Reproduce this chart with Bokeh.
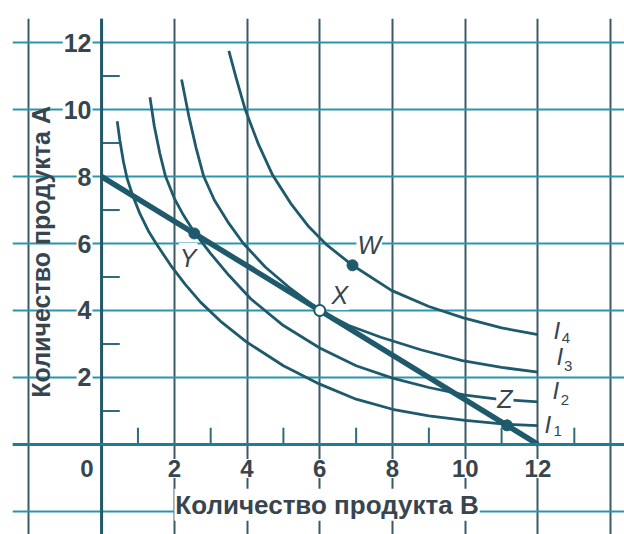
import math
from bokeh.plotting import figure
from bokeh.models import FixedTicker, Span
from bokeh.core.properties import value
from bokeh.embed import file_html
from bokeh.resources import INLINE

# ---- data ----
x_ticks = [0, 2, 4, 6, 8, 10, 12]
y_ticks = [2, 4, 6, 8, 10, 12]
x_minor = [1, 3, 5, 7, 9, 11, 13]
y_minor = [1, 3, 5, 7, 9, 11]
x_grid = [-2, 0, 2, 4, 6, 8, 10, 12, 14]
y_grid = [-2, 0, 2, 4, 6, 8, 10, 12]

budget_x = [0, 12]
budget_y = [8, 0]

i1_x = [0.43, 0.5, 0.6, 0.7, 0.85, 1.05, 1.3, 1.5, 1.9, 2.3, 2.72, 3.3, 4.0, 5.0, 6.0, 7.0, 8.0, 9.0, 10.0, 11.15, 12.0]
i1_y = [9.65, 9.1, 8.45, 7.95, 7.45, 6.9, 6.35, 6.0, 5.35, 4.78, 4.25, 3.65, 3.05, 2.35, 1.8, 1.35, 1.05, 0.85, 0.72, 0.6, 0.56]

i2_x = [1.33, 1.45, 1.6, 1.76, 2.0, 2.25, 2.54, 3.0, 3.5, 4.1, 5.0, 6.0, 7.0, 8.0, 9.0, 10.0, 11.0, 12.0]
i2_y = [10.37, 9.5, 8.7, 8.0, 7.35, 6.85, 6.35, 5.7, 5.05, 4.35, 3.55, 2.88, 2.35, 1.98, 1.7, 1.47, 1.34, 1.27]

i3_x = [2.2, 2.4, 2.6, 2.81, 3.1, 3.5, 3.9, 4.5, 5.2, 6.0, 6.8, 7.68, 8.8, 9.92, 11.0, 12.0]
i3_y = [10.9, 9.8, 8.85, 8.0, 7.3, 6.6, 6.0, 5.3, 4.65, 4.0, 3.55, 3.2, 2.82, 2.5, 2.3, 2.16]

i4_x = [3.5, 3.7, 3.95, 4.3, 4.7, 5.2, 5.7, 6.2, 6.9, 7.97, 9.0, 9.95, 11.0, 12.0]
i4_y = [11.75, 10.95, 10.0, 9.0, 8.05, 7.2, 6.5, 5.95, 5.35, 4.6, 4.12, 3.78, 3.48, 3.28]

pt_x = [6.9, 2.55, 11.15]
pt_y = [5.35, 6.3, 0.57]
x_pt = [6.0]
x_pt_y = [4.0]

pt_label_text = ["W", "X", "Y", "Z"]
pt_label_x = [7.36, 6.55, 2.38, 11.09]
pt_label_y = [5.96, 4.46, 5.57, 1.35]

curve_names = ["1", "2", "3", "4"]
curve_lab_x = [12.27, 12.49, 12.6, 12.52]
curve_lab_y = [0.6, 1.62, 2.62, 3.41]
curve_sub_x = [12.54, 12.74, 12.83, 12.77]
curve_sub_y = [0.41, 1.32, 2.33, 3.17]

x_title = "Количество продукта B"
y_title = "Количество продукта А"

# ---- styling ----
CURVE = "#1e5a6c"
TEXT = "#37454f"
FONT = value("Liberation Sans")

p = figure(width=624, height=534, x_range=(-2.45, 14.38), y_range=(-2.69, 12.72),
           output_backend="svg", toolbar_location=None,
           min_border_left=12, min_border_top=18, min_border_right=0, min_border_bottom=0)
p.xaxis.visible = False
p.yaxis.visible = False
p.outline_line_color = None
p.background_fill_color = "white"
p.border_fill_color = "white"

p.xgrid.ticker = FixedTicker(ticks=x_grid)
p.ygrid.ticker = FixedTicker(ticks=y_grid)
p.xgrid.grid_line_color = "#3a5a66"
p.xgrid.grid_line_width = 2
p.ygrid.grid_line_color = "#2996ae"
p.ygrid.grid_line_width = 2

p.add_layout(Span(location=0, dimension="height", line_color="#23596b", line_width=3))
p.add_layout(Span(location=0, dimension="width", line_color="#1f7d95", line_width=3))

# minor tick marks
p.segment(x0=[0] * len(y_minor), y0=y_minor, x1=[0.5] * len(y_minor), y1=y_minor,
          line_color="#2f6b7c", line_width=2)
p.segment(x0=x_minor, y0=[0] * len(x_minor), x1=x_minor, y1=[0.5] * len(x_minor),
          line_color="#2f6b7c", line_width=2)

# curves
for cx, cy in [(i1_x, i1_y), (i2_x, i2_y), (i3_x, i3_y), (i4_x, i4_y)]:
    p.line(cx, cy, line_color=CURVE, line_width=2.8, line_join="round")
p.line(budget_x, budget_y, line_color=CURVE, line_width=5.5)

# points
p.scatter(pt_x, pt_y, size=11, fill_color=CURVE, line_color=CURVE)
p.scatter(x_pt, x_pt_y, size=11, fill_color="white", line_color=CURVE, line_width=2)

# point labels
p.text(pt_label_x, pt_label_y, text=pt_label_text, text_font=FONT, text_font_style="italic",
       text_font_size="25px", text_color=TEXT, text_align="center", text_baseline="middle",
       background_fill_color="white", padding=1)

# curve labels
p.text(curve_lab_x, curve_lab_y, text=["I"] * 4, text_font=FONT, text_font_style="italic",
       text_font_size="24px", text_color=TEXT, text_align="center", text_baseline="middle")
p.text(curve_sub_x, curve_sub_y, text=curve_names, text_font=FONT,
       text_font_size="15px", text_color=TEXT, text_align="center", text_baseline="middle")

# tick labels
p.text([-0.25] * len(y_ticks), y_ticks, text=[str(v) for v in y_ticks], text_font=FONT,
       text_font_style="bold", text_font_size="25px", text_color=TEXT,
       text_align="right", text_baseline="middle", background_fill_color="white", padding=1)
x_lab_pos = [t - 0.4 if t == 0 else t for t in x_ticks]
p.text(x_lab_pos, [-0.72] * len(x_ticks), text=[str(v) for v in x_ticks], text_font=FONT,
       text_font_style="bold", text_font_size="24px", text_color=TEXT,
       text_align="center", text_baseline="middle", background_fill_color="white", padding=1)

# axis titles
p.text([6.2], [-1.8], text=[x_title], text_font=FONT, text_font_style="bold",
       text_font_size="26px", text_color=TEXT, text_align="center", text_baseline="middle",
       background_fill_color="white", padding=1)
p.text([-1.68], [5.75], text=[y_title], angle=math.pi / 2, text_font=FONT,
       text_font_style="bold", text_font_size="25px", text_color=TEXT,
       text_align="center", text_baseline="middle")

open("out.html", "w").write(file_html(p, INLINE))
